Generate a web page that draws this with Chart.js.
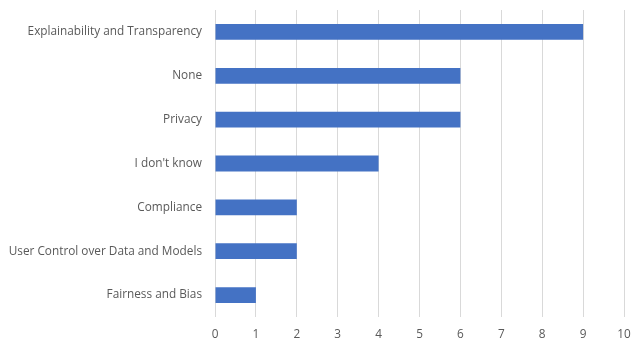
<!DOCTYPE html>
<html>
<head>
<meta charset="utf-8">
<script src="https://cdn.jsdelivr.net/npm/chart.js@4"></script>
<style>
  html, body { margin: 0; padding: 0; background: #fff; }
  #wrap { width: 632px; height: 343px; position: relative; }
</style>
</head>
<body>
<div id="wrap"><canvas id="chart"></canvas></div>
<script>
(function () {
  'use strict';

  const categories = [
    'Explainability and Transparency',
    'None',
    'Privacy',
    "I don't know",
    'Compliance',
    'User Control over Data and Models',
    'Fairness and Bias'
  ];
  const counts = [9, 6, 6, 4, 2, 2, 1];
  const xTicks = [0, 1, 2, 3, 4, 5, 6, 7, 8, 9, 10];

  const BAR_BLUE  = '#4472C4';
  const GRID_GREY = '#d9d9d9';
  const TEXT_GREY = '#595959';
  const FONT = { family: '"Open Sans", sans-serif', size: 11.8 };

  new Chart(document.getElementById('chart'), {
    type: 'bar',
    data: {
      labels: categories,
      datasets: [{
        data: counts,
        backgroundColor: BAR_BLUE,
        borderWidth: 0,
        barPercentage: 0.36,
        categoryPercentage: 1
      }]
    },
    options: {
      indexAxis: 'y',
      responsive: true,
      maintainAspectRatio: false,
      animation: false,
      layout: { padding: { top: 10, right: 8, left: 0, bottom: 0 } },
      plugins: {
        legend: { display: false },
        tooltip: { enabled: false }
      },
      scales: {
        x: {
          min: xTicks[0],
          max: xTicks[xTicks.length - 1],
          afterBuildTicks: function (axis) {
            axis.ticks = xTicks.map(function (v) { return { value: v }; });
          },
          afterFit: function (axis) {
            axis.height = 26;
            axis.paddingLeft = 0;
            axis.paddingRight = 0;
          },
          grid: { color: GRID_GREY, lineWidth: 1, drawTicks: false },
          border: { display: false },
          ticks: { font: FONT, color: TEXT_GREY, padding: 11 }
        },
        y: {
          afterFit: function (axis) {
            axis.width = 215;
            axis.paddingTop = 0;
            axis.paddingBottom = 0;
          },
          grid: { display: false, drawTicks: false },
          border: { display: false },
          ticks: { font: FONT, color: TEXT_GREY, padding: 13 }
        }
      }
    }
  });
})();
</script>
</body>
</html>
